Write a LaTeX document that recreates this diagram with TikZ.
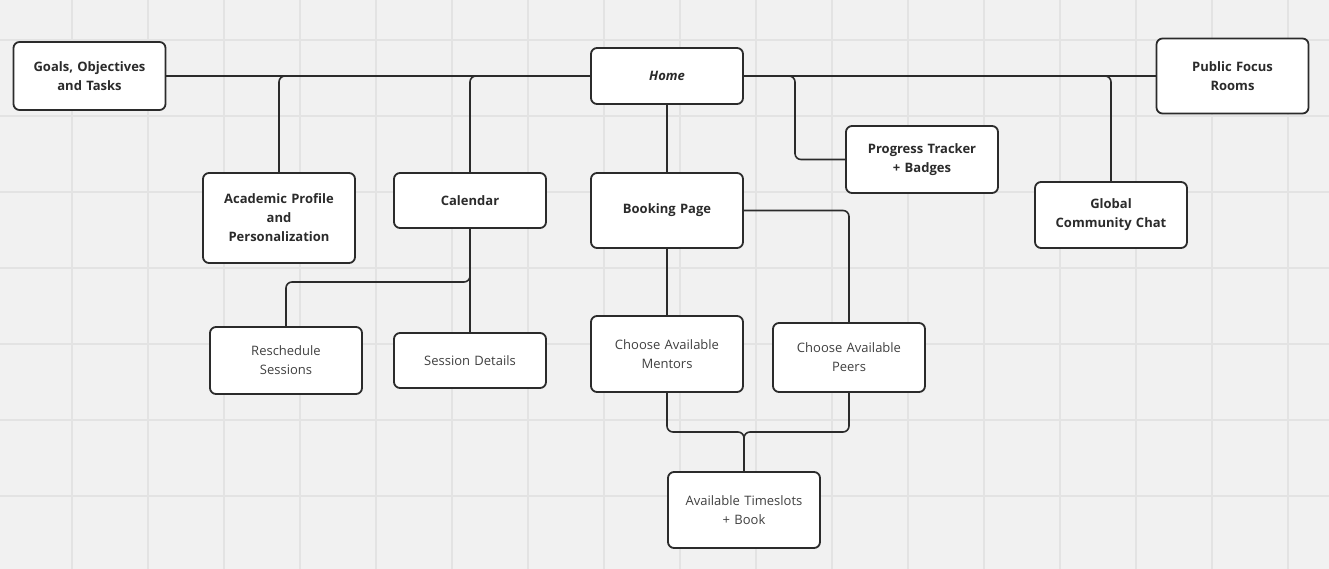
\documentclass[tikz,border=0pt]{standalone}
\usepackage{fontspec}
\setmainfont{Open Sans}
\usetikzlibrary{positioning}
\definecolor{paper}{HTML}{F1F1F1}
\definecolor{gridline}{HTML}{E3E3E3}
\definecolor{ink}{HTML}{2B2B2B}

\begin{document}
\begin{tikzpicture}[x=1pt,y=-1pt,
  page/.style={draw=ink,fill=white,line width=1.8pt,rounded corners=6pt,
    minimum width=152pt,text width=144pt,align=center,inner sep=2pt,
    font=\fontsize{13}{19}\selectfont,text=ink!90},
  main/.style={page,font=\fontsize{13}{19}\selectfont\bfseries,text=ink},
  link/.style={draw=ink,line width=1.6pt,rounded corners=6pt}]
\fill[paper] (0,0) rectangle (1329,569);
\useasboundingbox (0,0) rectangle (1329,569);
% grid
\foreach \gx in {72,148,...,1288}
  \draw[gridline,line width=1.6pt] (\gx,0) -- (\gx,569);
\foreach \gy in {40,116,...,496}
  \draw[gridline,line width=1.6pt] (0,\gy) -- (1329,\gy);

% top row
\node[main,minimum height=68pt] (goals) at (89.5,76) {Goals, Objectives\\and Tasks};
\node[main,minimum height=56pt,font=\fontsize{13}{19}\selectfont\bfseries\itshape] (home) at (667,76) {Home};
\node[main,minimum height=75pt] (pub) at (1232.5,76) {Public Focus\\Rooms};

% second row
\node[main,minimum height=90pt] (acad) at (279,218) {Academic Profile\\and\\Personalization};
\node[main,minimum height=55pt] (cal) at (470,200.5) {Calendar};
\node[main,minimum height=75pt] (book) at (667,210.5) {Booking Page};
\node[main,minimum height=67pt] (prog) at (922,159.5) {Progress Tracker\\+ Badges};
\node[main,minimum height=66pt] (chat) at (1111,215) {Global\\Community Chat};

% third row
\node[page,minimum height=67pt] (resch) at (286,360.5) {Reschedule\\Sessions};
\node[page,minimum height=55pt] (sess) at (470,360.5) {Session Details};
\node[page,minimum height=76pt] (ment) at (667,354) {Choose Available\\Mentors};
\node[page,minimum height=69pt] (peers) at (849,357.5) {Choose Available\\Peers};
\node[page,minimum height=76pt] (slot) at (744,510) {Available Timeslots\\+ Book};

% links
\draw[link] (goals.east) -- (home.west);
\draw[link] (home.west) -| (acad.north);
\draw[link] (home.west) -| (cal.north);
\draw[link] (home.east) -- (pub.west);
\draw[link] (home.east) -| (795,159.5) -- (prog.west);
\draw[link] (home.east) -| (chat.north);
\draw[link] (home.south) -- (book.north);
\draw[link] (cal.south) -- (sess.north);
\draw[link] (cal.south) -- (470,282) -| (resch.north);
\draw[link] (book.south) -- (ment.north);
\draw[link] (book.east) -| (peers.north);
\draw[link] (ment.south) |- (744,432) -- (slot.north);
\draw[link] (peers.south) |- (744,432) -- (slot.north);
\end{tikzpicture}
\end{document}
